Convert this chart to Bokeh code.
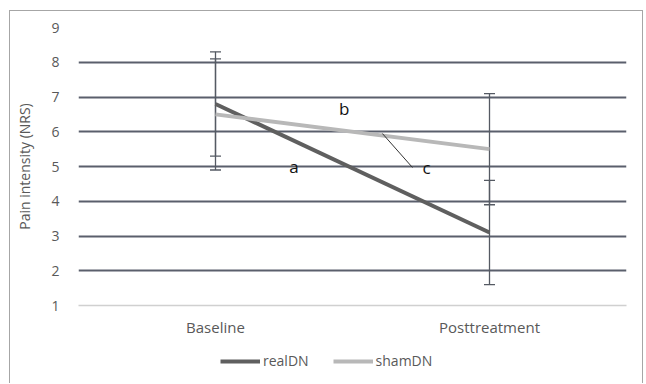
from bokeh.plotting import figure
from bokeh.layouts import column
from bokeh.models import (ColumnDataSource, FactorRange, Range1d, Whisker, Legend, LegendItem,
                          FixedTicker, Label)
from bokeh.embed import file_html
from bokeh.resources import INLINE

categories = ["Baseline", "Posttreatment"]
real_mean = [6.8, 3.1]
real_sd = [1.5, 1.5]
sham_mean = [6.5, 5.5]
sham_sd = [1.6, 1.6]
y_ticks = [1, 2, 3, 4, 5, 6, 7, 8, 9]

FONT = "Open Sans"
TXT = "#595959"
REAL_C = "#5f5f5f"
SHAM_C = "#b8b8b8"

real_src = ColumnDataSource(dict(x=categories, y=real_mean,
                                 lo=[m - s for m, s in zip(real_mean, real_sd)],
                                 hi=[m + s for m, s in zip(real_mean, real_sd)]))
sham_src = ColumnDataSource(dict(x=categories, y=sham_mean,
                                 lo=[m - s for m, s in zip(sham_mean, sham_sd)],
                                 hi=[m + s for m, s in zip(sham_mean, sham_sd)]))

p = figure(width=632, height=328, x_range=FactorRange(*categories), y_range=Range1d(1, 9),
           output_backend="svg", toolbar_location=None,
           min_border_left=68, min_border_right=16, min_border_top=16, min_border_bottom=10)
p.outline_line_color = None
p.background_fill_color = "white"
p.border_fill_color = "white"

# grid
p.xgrid.grid_line_color = None
p.ygrid.ticker = FixedTicker(ticks=y_ticks[1:])
p.ygrid.grid_line_color = "#5a5f6c"
p.ygrid.grid_line_width = 2

# axes
p.yaxis.ticker = FixedTicker(ticks=y_ticks)
p.yaxis.axis_line_color = None
p.yaxis.major_tick_line_color = None
p.yaxis.minor_tick_line_color = None
p.yaxis.major_label_text_font = FONT
p.yaxis.major_label_text_font_size = "14px"
p.yaxis.major_label_text_color = TXT
p.yaxis.major_label_standoff = 13
p.yaxis.axis_label = "Pain intensity (NRS)"
p.yaxis.axis_label_text_font = FONT
p.yaxis.axis_label_text_font_size = "14px"
p.yaxis.axis_label_text_font_style = "normal"
p.yaxis.axis_label_text_color = TXT
p.yaxis.axis_label_standoff = 14

p.xaxis.axis_line_color = "#d0d0d0"
p.xaxis.axis_line_width = 1.5
p.xaxis.major_tick_line_color = None
p.xaxis.minor_tick_line_color = None
p.xaxis.major_label_text_font = FONT
p.xaxis.major_label_text_font_size = "15px"
p.xaxis.major_label_text_color = TXT
p.xaxis.major_label_standoff = 5

# series lines
p.line("x", "y", source=real_src, line_color=REAL_C, line_width=4)
p.line("x", "y", source=sham_src, line_color=SHAM_C, line_width=4)

# error bars
for src in (real_src, sham_src):
    w = Whisker(base="x", lower="lo", upper="hi", source=src,
                line_color="#555a63", line_width=1.3)
    for h in (w.upper_head, w.lower_head):
        h.size = 11
        h.line_color = "#555a63"
        h.line_width = 1.3
    p.add_layout(w)

# annotation leader line (c)
p.segment(x0=[1.109], y0=[5.95], x1=[1.219], y1=[4.97], line_color="#333333", line_width=1)

for t, x, y in (("b", 0.97, 6.67), ("a", 0.786, 5.0), ("c", 1.27, 4.97)):
    p.add_layout(Label(x=x, y=y, text=t, text_font=FONT, text_font_size="17px",
                       text_color="#111111", text_align="center", text_baseline="middle"))

# legend figure below the chart
lg = figure(width=632, height=44, x_range=FactorRange(*categories), y_range=Range1d(100, 101),
            output_backend="svg", toolbar_location=None,
            min_border_left=0, min_border_right=0, min_border_top=0, min_border_bottom=0)
lg.axis.visible = False
lg.grid.visible = False
lg.outline_line_color = None
lr = lg.line("x", "y", source=real_src, line_color=REAL_C, line_width=4)
ls = lg.line("x", "y", source=sham_src, line_color=SHAM_C, line_width=4)
legend = Legend(items=[LegendItem(label="realDN", renderers=[lr]),
                       LegendItem(label="shamDN", renderers=[ls])],
                orientation="horizontal", location=(142, 13),
                label_text_font=FONT, label_text_font_size="14px", label_text_color=TXT,
                glyph_width=40, glyph_height=10, spacing=24, label_standoff=3,
                border_line_color=None, background_fill_alpha=0, padding=2, margin=0)
lg.add_layout(legend)

layout = column(p, lg, spacing=0,
                styles={"border": "1px solid #a6a6a6", "border-bottom": "none",
                        "margin-left": "9px", "margin-top": "10px"})

open("out.html", "w").write(file_html(layout, INLINE))
